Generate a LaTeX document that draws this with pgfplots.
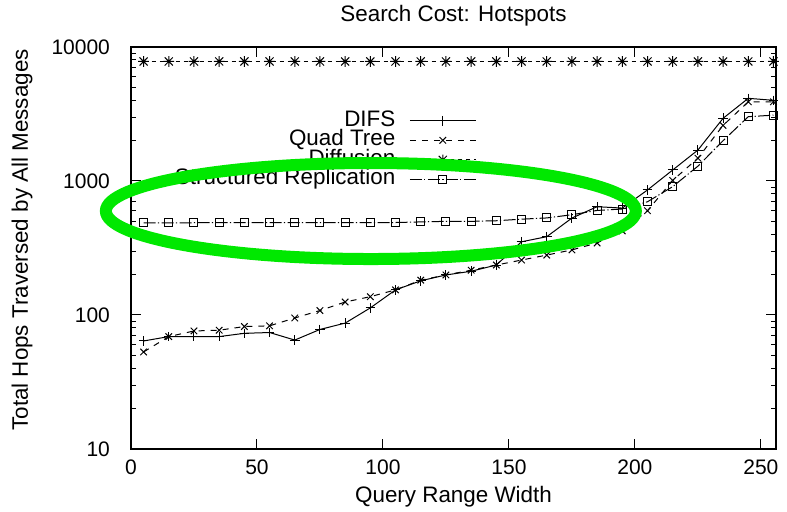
\documentclass[border=0pt]{standalone}
\usepackage{fontspec}
\setmainfont{Liberation Sans}
\usepackage{pgfplots}
\pgfplotsset{compat=1.18}
\definecolor{ovalgreen}{RGB}{0,232,0}

% eight-armed star: a plus sign laid over a cross
\pgfdeclareplotmark{plusx}{%
  \pgfpathmoveto{\pgfqpoint{-\pgfplotmarksize}{0pt}}%
  \pgfpathlineto{\pgfqpoint{\pgfplotmarksize}{0pt}}%
  \pgfpathmoveto{\pgfqpoint{0pt}{-\pgfplotmarksize}}%
  \pgfpathlineto{\pgfqpoint{0pt}{\pgfplotmarksize}}%
  \pgfpathmoveto{\pgfqpoint{-.75\pgfplotmarksize}{-.75\pgfplotmarksize}}%
  \pgfpathlineto{\pgfqpoint{.75\pgfplotmarksize}{.75\pgfplotmarksize}}%
  \pgfpathmoveto{\pgfqpoint{-.75\pgfplotmarksize}{.75\pgfplotmarksize}}%
  \pgfpathlineto{\pgfqpoint{.75\pgfplotmarksize}{-.75\pgfplotmarksize}}%
  \pgfusepathqstroke}

\begin{document}
\begin{tikzpicture}
\begin{semilogyaxis}[
  at={(0,0)}, anchor=south west,
  scale only axis, width=322.5pt, height=201pt,
  xmin=0, xmax=256, ymin=10, ymax=10000,
  xtick={0,50,...,250},
  ytick={10,100,1000,10000},
  yticklabels={10,100,1000,10000},
  /pgf/number format/assume math mode=true,
  tick label style={font=\fontsize{10.5}{12}\selectfont},
  xticklabel style={yshift=-2pt},
  yticklabel style={xshift=-7pt},
  major tick length=5pt, minor tick length=2.5pt,
  tick style={black, line width=0.5pt},
  axis line style={line width=0.7pt},
  title={Search Cost: Hotspots},
  every axis title/.style={at={(axis description cs:0.5,1.078)}, anchor=center, font=\fontsize{11.2}{13}\selectfont},
  xlabel={Query Range Width},
  xlabel style={at={(axis description cs:0.5,-0.119)}, anchor=center, font=\fontsize{11.2}{13}\selectfont},
  ylabel={Total Hops Traversed by All Messages},
  ylabel style={at={(axis description cs:-0.169,0.52)}, anchor=center, font=\fontsize{11.2}{13}\selectfont},
  legend plot pos=right,
  legend cell align=right,
  legend style={draw=none, fill=none, at={(axis description cs:0.536,0.842)}, anchor=north east,
    font=\fontsize{11.2}{13}\selectfont, inner xsep=0pt, inner ysep=0pt, row sep=0pt,
    nodes={inner xsep=3pt, inner ysep=0pt, text height=7.6pt, text depth=2.2pt},
    /tikz/every odd column/.append style={column sep=4pt}},
  legend image code/.code={\draw[mark repeat=2,mark phase=2,#1] plot coordinates {(0pt,0pt) (16.5pt,0pt) (33pt,0pt)};},
  every axis plot/.append style={black, line width=0.5pt, mark size=2pt, mark options={solid}},
]
% DIFS
\addplot[mark=+, mark size=2.4pt] coordinates {
  (5,64) (15,69) (25,69) (35,69) (45,73) (55,74) (65,65) (75,78) (85,87) (95,113)
  (105,154) (115,180) (125,199) (135,212) (145,236) (155,352) (165,384) (175,529)
  (185,643) (195,628) (205,857) (215,1208) (225,1702) (235,2937) (245,4140) (255,4000)};
\addlegendentry{DIFS}
% Quad Tree
\addplot[mark=x, mark size=2.3pt, dashed] coordinates {
  (5,53) (15,69) (25,76) (35,77) (45,82) (55,83) (65,95) (75,108) (85,125) (95,137)
  (105,154) (115,182) (125,199) (135,216) (145,236) (155,257) (165,280) (175,306)
  (185,345) (195,424) (205,600) (215,1010) (225,1480) (235,2600) (245,3900) (255,3900)};
\addlegendentry{Quad Tree}
% Diffusion
\addplot[mark=plusx, mark size=2.7pt, dash pattern=on 2pt off 2pt] coordinates {
  (5,7800) (15,7800) (25,7800) (35,7800) (45,7800) (55,7800) (65,7800) (75,7800) (85,7800) (95,7800)
  (105,7800) (115,7800) (125,7800) (135,7800) (145,7800) (155,7800) (165,7800) (175,7800)
  (185,7800) (195,7800) (205,7800) (215,7800) (225,7800) (235,7800) (245,7800) (255,7800)};
\addlegendentry{Diffusion}
% Structured Replication
\addplot[mark=square, dash pattern=on 6pt off 1.2pt on 0.6pt off 1.2pt] coordinates {
  (5,486) (15,486) (25,488) (35,488) (45,488) (55,488) (65,488) (75,488) (85,488) (95,488)
  (105,490) (115,495) (125,500) (135,500) (145,505) (155,519) (165,530) (175,560)
  (185,603) (195,618) (205,700) (215,908) (225,1290) (235,2000) (245,3020) (255,3100)};
\addlegendentry{Structured Replication}
\coordinate (ec) at (axis cs:95.2,597);
\end{semilogyaxis}
\draw[line width=6pt, ovalgreen] (ec) ellipse [x radius=132.5pt, y radius=24pt];
\pgfresetboundingbox
\path[use as bounding box] (-65.5pt,-31.5pt) rectangle (328pt,224.5pt);
\end{tikzpicture}
\end{document}
